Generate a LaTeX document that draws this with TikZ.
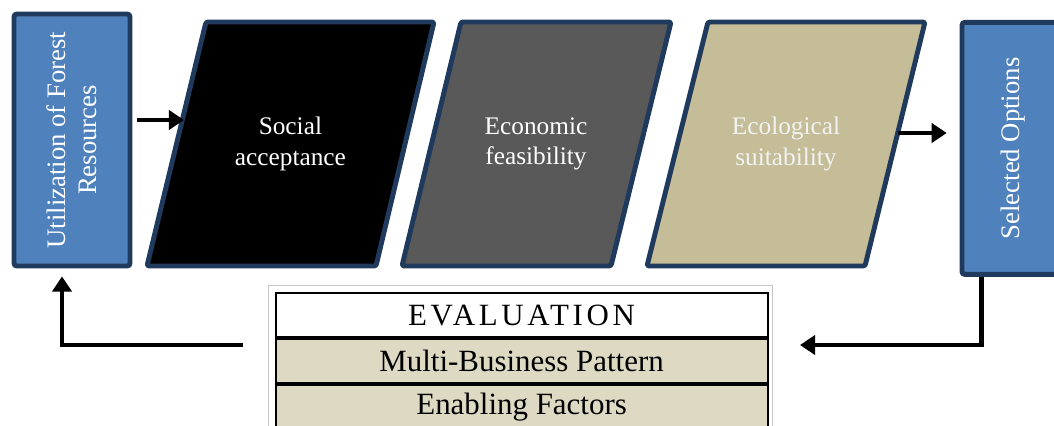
\documentclass[tikz,border=0pt]{standalone}
\usepackage{fontspec}
\setmainfont{Liberation Serif}
\usepackage{tikz}
\usetikzlibrary{positioning,arrows.meta}
\usepackage{xcolor}

\definecolor{boxblue}{HTML}{4F81BD}
\definecolor{edgenavy}{HTML}{1F3A5C}
\definecolor{econgray}{HTML}{595959}
\definecolor{ecosand}{HTML}{C4BD97}
\definecolor{rowsand}{HTML}{DDD9C3}

\tikzset{
    sidebox/.style={draw=edgenavy, line width=3.5pt, rounded corners=2pt, fill=boxblue,
        text=white, align=center, rotate=90, font=\fontsize{19pt}{22pt}\selectfont},
    slantbox/.style={draw=edgenavy, line width=3.5pt, line join=round, rounded corners=1.5pt},
    slanttext/.style={text=white, align=center, font=\fontsize{18pt}{21.5pt}\selectfont},
    evalrow/.style={draw=black, line width=1.4pt, fill=rowsand, minimum width=12.3cm,
        minimum height=1.1cm, inner sep=0pt, font=\fontsize{22pt}{24pt}\selectfont},
    arr/.style={-{Triangle[length=0.38cm, width=0.48cm]}, line width=3.5pt}
}

\begin{document}
\begin{tikzpicture}
    \useasboundingbox (0,0) rectangle (26.35,-10.65);

    % Input box
    \node[sidebox, minimum width=6.3cm, minimum height=2.9cm] (util) at (1.8,-3.5)
        {Utilization of Forest\\Resources};

    % The three criteria
    \draw[slantbox, fill=black] (3.675,-6.65) -- (9.4,-6.65) -- (10.85,-0.55) -- (5.15,-0.55) -- cycle;
    \node[slanttext] (social) at (7.26,-3.6) {Social\\acceptance};

    \draw[slantbox, fill=econgray] (10.05,-6.65) -- (15.275,-6.65) -- (16.775,-0.55) -- (11.525,-0.55) -- cycle;
    \node[slanttext] (econ) at (13.4,-3.6) {Economic\\feasibility};

    \draw[slantbox, fill=ecosand] (16.175,-6.65) -- (21.625,-6.65) -- (23.125,-0.55) -- (17.7,-0.55) -- cycle;
    \node[slanttext, text=white!95!black] (ecol) at (19.65,-3.6) {Ecological\\suitability};

    % Output box
    \node[sidebox, minimum width=6.3cm, minimum height=2.55cm] (sel) at (25.325,-3.71)
        {Selected Options};

    % Evaluation table
    \node[evalrow, fill=white] (evalhead) at (13.04,-7.875)
        {\addfontfeature{LetterSpace=12}EVALUATION};
    \node[evalrow, below=0pt of evalhead] (pattern) {Multi-Business Pattern};
    \node[evalrow, below=0pt of pattern] (enabling) {Enabling Factors};
    \draw[black!22, line width=0.6pt] ([xshift=-0.15cm, yshift=0.17cm]evalhead.north west)
        rectangle ([xshift=0.1cm, yshift=-0.4cm]enabling.south east);

    % Flow arrows
    \coordinate (socialin) at (4.6,-3.0);
    \coordinate (ecolout) at (22.44,-3.325);
    \draw[arr] ([xshift=0.12cm]util.south |- socialin) -- (socialin);
    \draw[arr] (ecolout) -- ([xshift=-0.32cm]ecolout -| sel.north);

    % Feedback loop
    \coordinate (backin) at (20.0,-8.625);
    \coordinate (backout) at (6.075,-8.625);
    \draw[arr] ([xshift=0.55cm]sel.north west) |- (backin);
    \draw[arr] (backout) -| ([xshift=-0.25cm,yshift=-0.2cm]util.west);
\end{tikzpicture}
\end{document}
